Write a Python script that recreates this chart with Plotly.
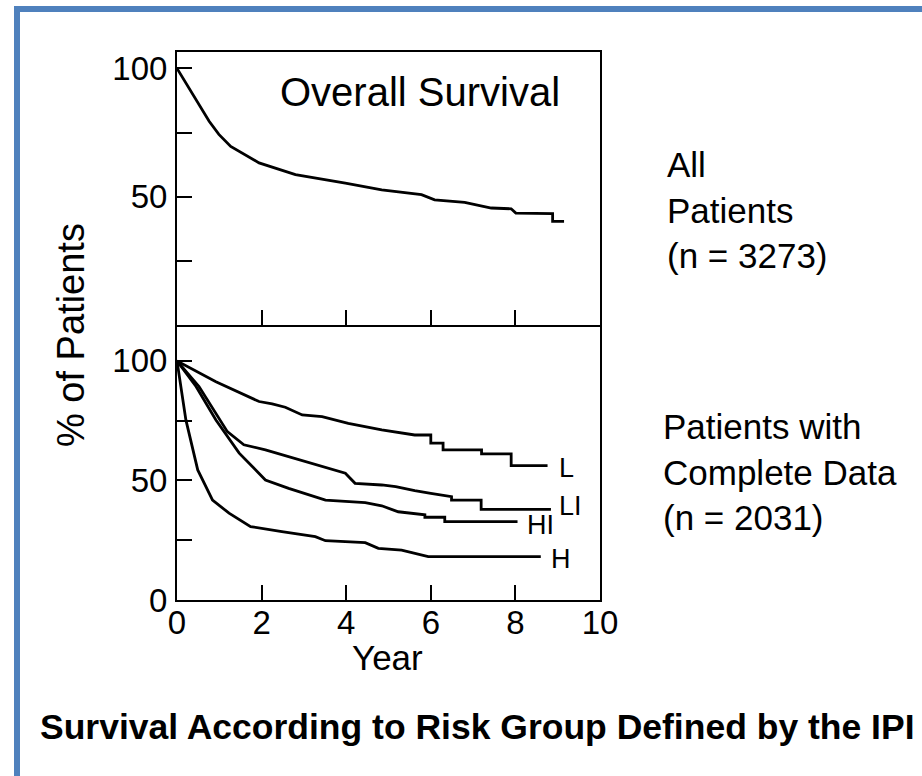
import plotly.graph_objects as go

# Overall survival, all patients
overall_years = [0, 0.76, 0.99, 1.27, 1.94, 2.8, 3.98, 4.84, 5.78, 6.09, 6.8, 7.43, 7.9, 8.01, 8.88, 8.88, 9.15]
overall_pct = [100, 79.4, 74.3, 69.6, 63.2, 58.6, 55.3, 52.7, 50.8, 48.8, 47.8, 45.6, 45.3, 43.6, 43.4, 40.4, 40.4]

# Survival by IPI risk group
low_years = [0, 0.92, 1.94, 2.25, 2.56, 2.96, 3.43, 4.05, 4.84, 5.62, 6.0, 6.0, 6.29, 6.29, 7.2, 7.2, 7.9, 7.9, 8.76]
low_pct = [100, 91.3, 83.0, 82.0, 80.6, 77.4, 76.7, 73.9, 71.1, 69.0, 69.0, 65.6, 65.6, 62.8, 62.8, 61.1, 61.1, 56.2, 56.2]

low_int_years = [0, 0.52, 1.19, 1.58, 2.09, 2.88, 3.43, 3.98, 4.21, 4.84, 5.17, 5.62, 6.0, 6.49, 6.49, 7.19, 7.19, 8.84]
low_int_pct = [100, 89.3, 70.4, 64.9, 62.8, 58.6, 55.8, 53.0, 48.8, 48.1, 47.4, 45.7, 44.6, 43.2, 41.8, 41.8, 37.9, 37.9]

high_int_years = [0, 0.45, 0.92, 1.47, 2.09, 2.64, 3.51, 4.45, 4.84, 5.23, 5.86, 5.86, 6.33, 6.33, 8.05]
high_int_pct = [100, 89.3, 75.3, 61.4, 50.2, 46.7, 41.8, 40.7, 39.4, 36.9, 35.6, 34.6, 34.6, 32.8, 32.8]

high_years = [0, 0.21, 0.49, 0.84, 1.23, 1.74, 2.48, 3.27, 3.51, 4.45, 4.76, 5.31, 5.94, 8.6]
high_pct = [100, 75.3, 54.4, 41.8, 36.3, 30.7, 28.6, 26.5, 24.8, 24.0, 21.6, 20.9, 18.1, 18.1]

group_labels = ["L", "LI", "HI", "H"]
label_years = [8.98, 8.98, 8.22, 8.79]
label_pct = [55.2, 39.3, 31.4, 17.2]

x_ticks = [0, 2, 4, 6, 8, 10]
top_y_ticks = [25, 50, 75, 100]
top_y_text = ["", "50", "", "100"]
bottom_y_ticks = [0, 25, 50, 75, 100]
bottom_y_text = ["0", "", "50", "", "100"]

FONT = "Liberation Sans, Arial, Helvetica, sans-serif"
W, H = 922, 776
L_M, R_M, T_M, B_M = 177, 322, 52, 176
PW = W - L_M - R_M
PH = H - T_M - B_M
SPLIT = (600 - 325) / PH


def px(x):
    return (x - L_M) / PW


def py(y):
    return (H - B_M - y) / PH


line = dict(color="black", width=2.8)

fig = go.Figure()
fig.add_trace(go.Scatter(x=overall_years, y=overall_pct, mode="lines", line=line,
                         xaxis="x2", yaxis="y2", showlegend=False))
for xs, ys in [(low_years, low_pct), (low_int_years, low_int_pct),
               (high_int_years, high_int_pct), (high_years, high_pct)]:
    fig.add_trace(go.Scatter(x=xs, y=ys, mode="lines", line=line,
                             xaxis="x", yaxis="y", showlegend=False))

axis_common = dict(showline=True, linecolor="black", linewidth=2, mirror=True,
                   ticks="inside", ticklen=15, tickwidth=2, tickcolor="black",
                   showgrid=False, zeroline=False,
                   tickfont=dict(family=FONT, size=33, color="black"))

fig.update_layout(
    width=W, height=H,
    margin=dict(l=L_M, r=R_M, t=T_M, b=B_M),
    paper_bgcolor="white", plot_bgcolor="white",
    xaxis=dict(axis_common, mirror=False, domain=[0, 1], range=[0, 10], tickmode="array",
               tickvals=x_ticks, ticktext=[str(v) for v in x_ticks], anchor="y",
               ticklabelstandoff=-8),
    yaxis=dict(axis_common, domain=[0, SPLIT], range=[0, 115.0], tickmode="array",
               tickvals=bottom_y_ticks, ticktext=bottom_y_text, anchor="x",
               ticklabelstandoff=1),
    xaxis2=dict(axis_common, domain=[0, 1], range=[0, 10], tickmode="array",
                tickvals=[2, 4, 6, 8], showticklabels=False, anchor="y2"),
    yaxis2=dict(axis_common, domain=[SPLIT, 1], range=[0, 106.4], tickmode="array",
                tickvals=top_y_ticks, ticktext=top_y_text, anchor="x2",
                ticklabelstandoff=1),
)


def note(text, x, y, size, **kw):
    base = dict(text=text, x=px(x), y=py(y), xref="paper", yref="paper",
                xanchor="center", yanchor="middle", showarrow=False,
                font=dict(family=FONT, size=size, color="black"))
    base.update(kw)
    return base


ann = [note("Overall Survival", 420, 92, 40)]
for t, xv, yv in zip(group_labels, label_years, label_pct):
    ann.append(dict(text=t, x=xv, y=yv, xref="x", yref="y", xanchor="left",
                    yanchor="middle", showarrow=False,
                    font=dict(family=FONT, size=27, color="black")))
ann.append(note("% of Patients", 71, 335, 38, textangle=-90))
ann.append(note("Year", 387, 657, 35))
ann.append(note("All<br>Patients<br>(n = 3273)", 665, 210, 35, xanchor="left", align="left"))
ann.append(note("Patients with<br>Complete Data<br>(n = 2031)", 661, 472, 35,
                xanchor="left", align="left"))
ann.append(note("<b>Survival According to Risk Group Defined by the IPI</b>", 477, 727, 35.5))
fig.update_layout(annotations=ann)

# Blue frame along the top and left edges
blue = "#4f81bd"
fig.add_shape(type="rect", xref="paper", yref="paper", x0=px(14), x1=px(20),
              y0=py(790), y1=py(6), fillcolor=blue, line_width=0, layer="above")
fig.add_shape(type="rect", xref="paper", yref="paper", x0=px(14), x1=px(940),
              y0=py(12), y1=py(6), fillcolor=blue, line_width=0, layer="above")

fig.write_html("out.html")
